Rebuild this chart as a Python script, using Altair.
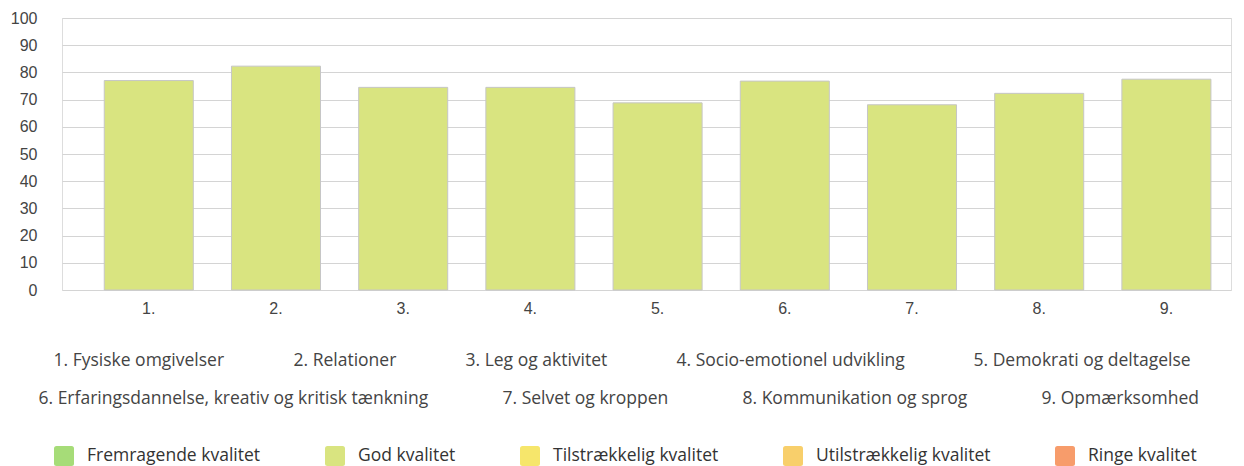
import altair as alt
import pandas as pd

categories = ["1.", "2.", "3.", "4.", "5.", "6.", "7.", "8.", "9."]
values = [77.0, 82.3, 74.5, 74.5, 68.8, 76.8, 68.1, 72.3, 77.5]
bar_quality = ["God kvalitet"] * 9

names_row1 = ["1. Fysiske omgivelser", "2. Relationer", "3. Leg og aktivitet",
              "4. Socio-emotionel udvikling", "5. Demokrati og deltagelse"]
names_row2 = ["6. Erfaringsdannelse, kreativ og kritisk tænkning", "7. Selvet og kroppen",
              "8. Kommunikation og sprog", "9. Opmærksomhed"]

quality_levels = ["Fremragende kvalitet", "God kvalitet", "Tilstrækkelig kvalitet",
                  "Utilstrækkelig kvalitet", "Ringe kvalitet"]
quality_colors = ["#a6dc78", "#d9e480", "#f6e66b", "#f8cf6b", "#f79c6b"]

y_ticks = [0, 10, 20, 30, 40, 50, 60, 70, 80, 90, 100]

bars_df = pd.DataFrame({"cat": categories, "value": values, "quality": bar_quality})
row1_df = pd.DataFrame({"name": names_row1})
row2_df = pd.DataFrame({"name": names_row2})

rounded_square = ("M-0.75,-1 H0.75 Q1,-1 1,-0.75 V0.75 Q1,1 0.75,1 H-0.75 "
                  "Q-1,1 -1,0.75 V-0.75 Q-1,-1 -0.75,-1 Z")

label_font = "Open Sans"
label_size = 17.5
text_color = "#444444"

bars = alt.Chart(bars_df).mark_bar(stroke="#c6c6c6", strokeWidth=1).encode(
    x=alt.X("cat:N", sort=categories, title=None,
            scale=alt.Scale(paddingInner=0.3, paddingOuter=0.245, align=0.678),
            axis=alt.Axis(labelAngle=0, labelFont="Liberation Sans", labelFontSize=16,
                          labelColor=text_color, labelPadding=10, ticks=False,
                          domain=False, grid=False)),
    y=alt.Y("value:Q", title=None, scale=alt.Scale(domain=[0, 100], nice=False),
            axis=alt.Axis(values=y_ticks, labelFont="Liberation Sans", labelFontSize=16,
                          labelColor=text_color, labelPadding=25, ticks=False,
                          domain=False, gridColor="#d4d4d4", gridWidth=1.2)),
    color=alt.Color("quality:N",
                    scale=alt.Scale(domain=quality_levels, range=quality_colors),
                    legend=alt.Legend(title=None, orient="none", legendX=-8, legendY=428,
                                      direction="horizontal", columns=5,
                                      symbolType=rounded_square, symbolSize=400,
                                      symbolStrokeWidth=0, symbolOpacity=1,
                                      labelFont=label_font, labelFontSize=label_size,
                                      labelColor="#333333", labelOffset=13,
                                      labelLimit=1000, columnPadding=64)),
)

row1 = alt.Chart(row1_df).mark_point(opacity=0).encode(
    color=alt.Color("name:N", sort=names_row1,
                    scale=alt.Scale(domain=names_row1, range=["#ffffff"]),
                    legend=alt.Legend(title=None, orient="none", legendX=-26, legendY=334,
                                      direction="horizontal", columns=5,
                                      symbolSize=0, symbolStrokeWidth=0, symbolOpacity=0,
                                      labelFont=label_font, labelFontSize=label_size,
                                      labelColor=text_color, labelOffset=0,
                                      labelLimit=1000, columnPadding=51)),
)

row2 = alt.Chart(row2_df).mark_point(opacity=0).encode(
    color=alt.Color("name:N", sort=names_row2,
                    scale=alt.Scale(domain=names_row2, range=["#ffffff"]),
                    legend=alt.Legend(title=None, orient="none", legendX=-41, legendY=372,
                                      direction="horizontal", columns=4,
                                      symbolSize=0, symbolStrokeWidth=0, symbolOpacity=0,
                                      labelFont=label_font, labelFontSize=label_size,
                                      labelColor=text_color, labelOffset=0,
                                      labelLimit=1000, columnPadding=56)),
)

chart = alt.layer(bars, row1, row2).resolve_scale(color="independent").properties(
    width=1169, height=272,
    padding={"top": 2, "left": 2, "right": 5, "bottom": 0},
).configure_view(stroke=None).configure(background="white")

chart.save("out.html", embed_options={"renderer": "svg", "actions": False})
